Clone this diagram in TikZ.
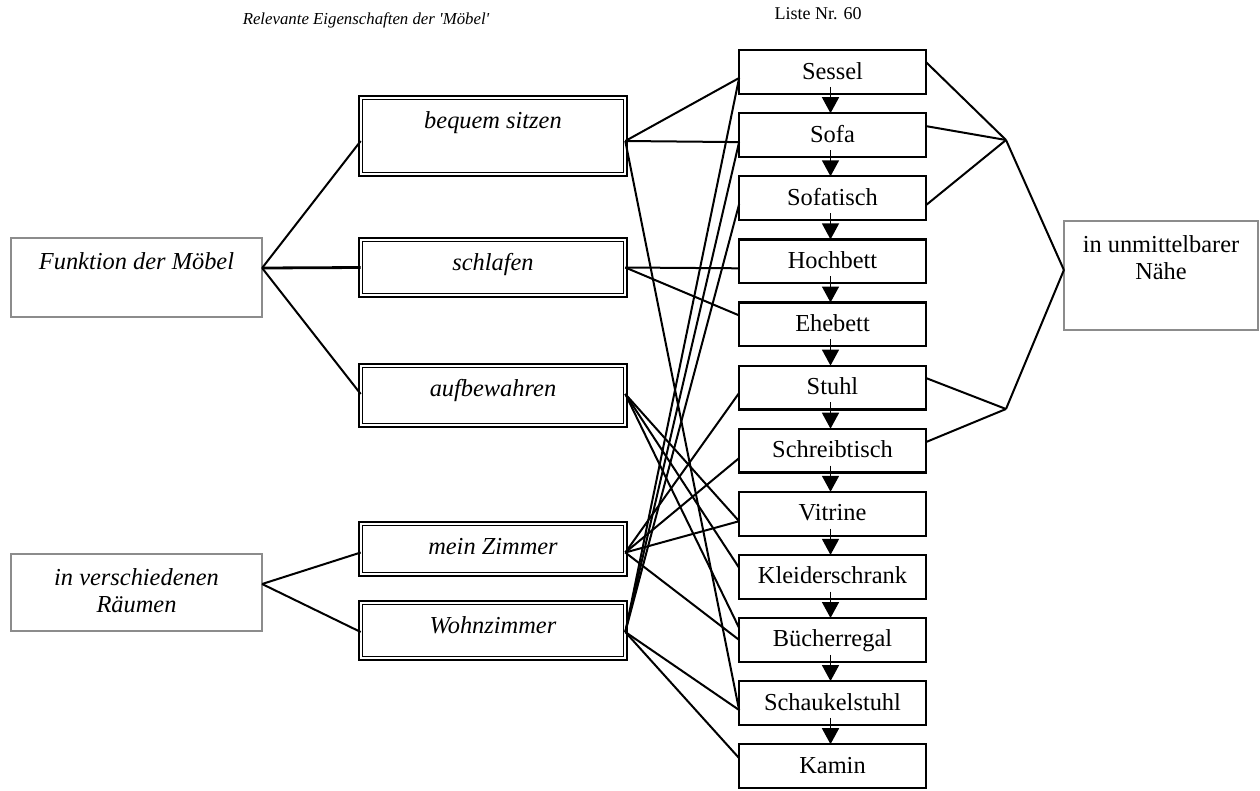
\documentclass[tikz,border=0pt]{standalone}
\usepackage{fontspec}
\setmainfont{Liberation Serif}
\newfontfamily\rawserif{Liberation Serif}
\usetikzlibrary{arrows.meta}
\newcommand{\tbx}[4]{\parbox[c][#1][t]{#2}{\centering\vspace*{#3}\strut #4\par}}
\definecolor{boxgray}{RGB}{140,140,140}
\tikzset{
  big/.style={font=\fontsize{24.4}{27}\selectfont},
  gbox/.style={big, draw=boxgray, line width=1.8pt, inner sep=0pt, outer sep=0pt, anchor=north west},
  dbox/.style={big, draw=black, double=white, double distance=2pt, line width=1.7pt, inner sep=0pt, outer sep=0pt, anchor=north west},
  lbox/.style={big, draw=black, line width=2.2pt, inner sep=0pt, outer sep=0pt, minimum width=186.8pt, minimum height=43.8pt, text height=17pt, text depth=3pt},
  conn/.style={line width=2pt},
  arr/.style={line width=1.5pt, -{Triangle[width=17pt,length=16pt]}}
}
\begin{document}
\begin{tikzpicture}[x=1pt,y=-1pt]
\useasboundingbox (0,0) rectangle (1260,790);
% titles
\node[font=\fontsize{16.8}{19}\rawserif\itshape] (title) at (366,20) {Relevante Eigenschaften der 'Möbel'};
\node[font=\fontsize{18}{20}\selectfont] (liste) at (818,14) {Liste Nr. 60};
% left gray boxes
\node[gbox] (fkt) at (10.9,237.9) {\tbx{79.2pt}{251.2pt}{12.3pt}{\itshape Funktion der Möbel}};
\node[gbox] (rau) at (10.9,553.9) {\tbx{77.2pt}{251.2pt}{12.3pt}{\itshape in verschiedenen\\Räumen}};
% double boxes
\node[dbox] (beq) at (360.7,97.7) {\tbx{76.6pt}{264.6pt}{11.4pt}{\itshape bequem sitzen}};
\node[dbox] (sch) at (360.7,239.7) {\tbx{55.6pt}{264.6pt}{11.4pt}{\itshape schlafen}};
\node[dbox] (auf) at (360.7,365.7) {\tbx{59.6pt}{264.6pt}{11.4pt}{\itshape aufbewahren}};
\node[dbox] (mei) at (360.7,523.7) {\tbx{50.6pt}{264.6pt}{11.4pt}{\itshape mein Zimmer}};
\node[dbox] (woh) at (360.7,602.7) {\tbx{55.6pt}{264.6pt}{11.4pt}{\itshape Wohnzimmer}};
% list boxes
\node[lbox] (l0) at (832.5,72) {Sessel};
\node[lbox] (l1) at (832.5,135.1) {Sofa};
\node[lbox] (l2) at (832.5,198.2) {Sofatisch};
\node[lbox] (l3) at (832.5,261.3) {Hochbett};
\node[lbox] (l4) at (832.5,324.4) {Ehebett};
\node[lbox] (l5) at (832.5,387.5) {Stuhl};
\node[lbox] (l6) at (832.5,450.6) {Schreibtisch};
\node[lbox] (l7) at (832.5,513.7) {Vitrine};
\node[lbox] (l8) at (832.5,576.8) {Kleiderschrank};
\node[lbox] (l9) at (832.5,639.9) {Bücherregal};
\node[lbox] (l10) at (832.5,703) {Schaukelstuhl};
\node[lbox] (l11) at (832.5,766.1) {Kamin};
% right box
\node[gbox] (nah) at (1063.9,220.9) {\tbx{109.2pt}{194.2pt}{12.3pt}{in unmittelbarer\\Nähe}};
\coordinate (p1) at (1006,140);
\coordinate (p2) at (1006,409);
% arrows in list
\foreach \a/\b in {l0/l1,l1/l2,l2/l3,l3/l4,l4/l5,l5/l6,l6/l7,l7/l8,l8/l9,l9/l10,l10/l11}
  \draw[arr] ([xshift=-2pt,yshift=7pt]\a.south) -- ([xshift=-2pt]\b.north);
% left connectors
\draw[conn] ([yshift=9.5pt]fkt.east) -- ([yshift=-5pt]beq.west);
\draw[line width=2.8pt] ([yshift=9.5pt]fkt.east) -- (sch.west);
\draw[conn] ([yshift=9.5pt]fkt.east) -- ([yshift=1.5pt]auf.west);
\draw[conn] ([yshift=8.5pt]rau.east) -- ([yshift=-3.5pt]mei.west);
\draw[conn] ([yshift=8.5pt]rau.east) -- ([yshift=-1.5pt]woh.west);
% middle connectors
\draw[conn] ([yshift=-5pt]beq.east) -- ([yshift=-6pt]l0.west);
\draw[conn] ([yshift=-5pt]beq.east) -- ([yshift=-7pt]l1.west);
\draw[conn] ([yshift=-5pt]beq.east) -- ([yshift=-7pt]l10.west);
\draw[conn] (sch.east) -- ([yshift=-7pt]l3.west);
\draw[conn] (sch.east) -- ([yshift=9pt]l4.west);
\draw[conn] ([yshift=1.5pt]auf.east) -- ([yshift=-7.5pt]l7.west);
\draw[conn] ([yshift=1.5pt]auf.east) -- ([yshift=9pt]l8.west);
\draw[conn] ([yshift=1.5pt]auf.east) -- ([yshift=12pt]l9.west);
\draw[conn] ([yshift=-3.5pt]mei.east) -- ([yshift=-5.5pt]l5.west);
\draw[conn] ([yshift=-3.5pt]mei.east) -- ([yshift=-7.5pt]l6.west);
\draw[conn] ([yshift=-3.5pt]mei.east) -- ([yshift=-7.5pt]l7.west);
\draw[conn] ([yshift=-3.5pt]mei.east) -- (l9.west);
\draw[conn] ([yshift=-1.5pt]woh.east) -- ([yshift=-6pt]l0.west);
\draw[conn] ([yshift=-1.5pt]woh.east) -- ([yshift=-7pt]l1.west);
\draw[conn] ([yshift=-1.5pt]woh.east) -- ([yshift=-6pt]l2.west);
\draw[conn] ([yshift=-1.5pt]woh.east) -- ([yshift=-7pt]l10.west);
\draw[conn] ([yshift=-1.5pt]woh.east) -- ([yshift=8pt]l11.west);
% right connectors
\draw[conn] ([yshift=10pt]l0.east) -- (p1);
\draw[conn] ([yshift=9pt]l1.east) -- (p1);
\draw[conn] ([yshift=-7pt]l2.east) -- (p1);
\draw[conn] ([yshift=9.5pt]l5.east) -- (p2);
\draw[conn] ([yshift=8.5pt]l6.east) -- (p2);
\draw[conn] (p1) -- ([yshift=5.5pt]nah.west);
\draw[conn] (p2) -- ([yshift=5.5pt]nah.west);
\end{tikzpicture}
\end{document}
